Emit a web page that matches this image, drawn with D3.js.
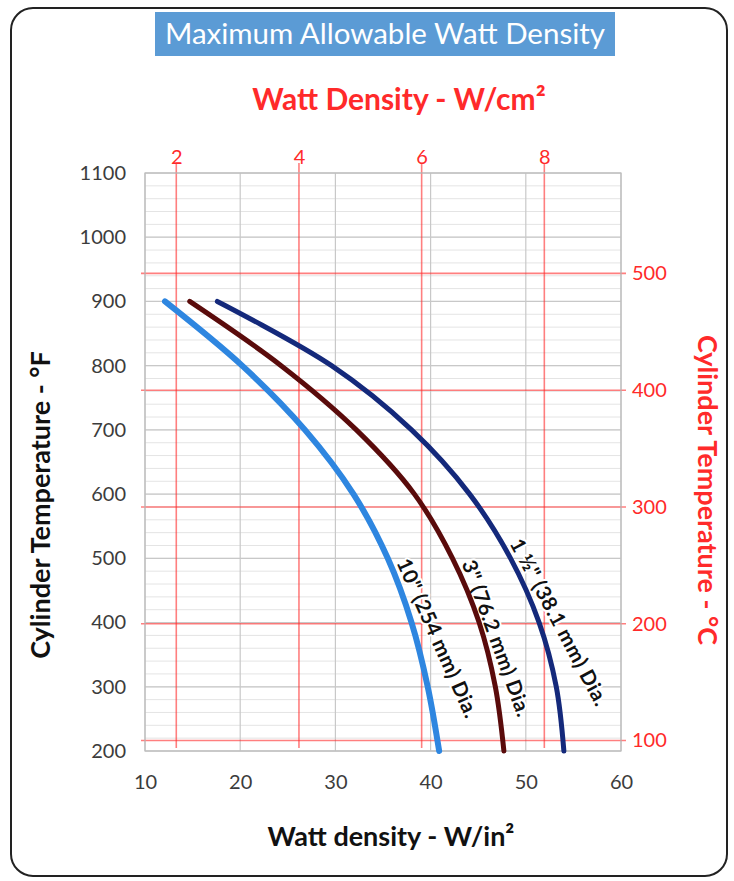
<!DOCTYPE html>
<html>
<head>
<meta charset="utf-8">
<script src="https://cdn.jsdelivr.net/npm/d3@7"></script>
<style>
    body { margin: 0; background: #fff; }
    svg text { font-family: Lato, "Open Sans", sans-serif; }
</style>
</head>
<body>
<div id="chart"></div>
<script>
// Watt density (W/in²) at these temperatures (°F)
const tempsF = [900, 800, 700, 600, 500, 400, 300, 200];
const dia10 = [12.1, 20.2, 26.8, 31.9, 35.5, 38.0, 39.7, 40.9];
const dia3 = [14.7, 24.3, 32.2, 38.3, 42.3, 45.1, 46.8, 47.7];
const dia15 = [17.6, 29.6, 38.0, 44.1, 48.4, 51.4, 53.2, 54.0];

const seriesNames = ['10" (254 mm) Dia.', '3" (76.2 mm) Dia.', '1 ½" (38.1 mm) Dia.'];
const seriesValues = [dia10, dia3, dia15];
const seriesColors = ["#2e86e0", "#5a0b0b", "#14297b"];
const labelStartF = [490, 490, 520];   // where each curve label begins
const labelAngle = [66, 70, 62];

const xTicks = [10, 20, 30, 40, 50, 60];
const yTicks = [200, 300, 400, 500, 600, 700, 800, 900, 1000, 1100];
const cmTicks = [2, 4, 6, 8];
const cTicks = [100, 200, 300, 400, 500];
// secondary axes as drawn in the source (a bit off a strict unit conversion)
const cmDomain = [1.49, 9.25];
const cDomain = [91, 586];

const W = 734, H = 881;
const plot = { left: 145, right: 621, top: 173, bottom: 751 };
const red = "#ff2a2a";

const svg = d3.select("#chart").append("svg")
    .attr("width", W).attr("height", H);

// outer rounded frame
svg.append("rect")
    .attr("x", 11).attr("y", 8).attr("width", 716).attr("height", 868)
    .attr("rx", 22).attr("fill", "#fff")
    .attr("stroke", "#222").attr("stroke-width", 2);

// title box
svg.append("rect")
    .attr("x", 155).attr("y", 12).attr("width", 460).attr("height", 44)
    .attr("fill", "#5b9bd5");
svg.append("text")
    .attr("x", 385).attr("y", 44).attr("text-anchor", "middle")
    .attr("fill", "#fff").attr("font-size", 29.5)
    .text("Maximum Allowable Watt Density");

const x = d3.scaleLinear().domain([10, 60]).range([plot.left, plot.right]);
const y = d3.scaleLinear().domain([200, 1100]).range([plot.bottom, plot.top]);
const xCm = d3.scaleLinear().domain(cmDomain).range(x.range());
const yC = d3.scaleLinear().domain(cDomain).range(y.range());

// grey grid
const grid = svg.append("g");
grid.selectAll(".minor").data(d3.range(200, 1101, 20)).enter().append("line")
    .attr("x1", plot.left).attr("x2", plot.right)
    .attr("y1", d => y(d)).attr("y2", d => y(d))
    .attr("stroke", "#e4e4e4").attr("stroke-width", 1);
grid.selectAll(".major").data(yTicks).enter().append("line")
    .attr("x1", plot.left).attr("x2", plot.right)
    .attr("y1", d => y(d)).attr("y2", d => y(d))
    .attr("stroke", "#c8c8c8").attr("stroke-width", 1.2);
grid.selectAll(".vert").data(xTicks).enter().append("line")
    .attr("x1", d => x(d)).attr("x2", d => x(d))
    .attr("y1", plot.top).attr("y2", plot.bottom)
    .attr("stroke", "#c8c8c8").attr("stroke-width", 1.2);

// red secondary grid (W/cm² and °C)
const redGrid = svg.append("g").attr("stroke", red).attr("stroke-opacity", 0.6).attr("stroke-width", 1.6);
redGrid.selectAll(".rv").data(cmTicks).enter().append("line")
    .attr("x1", d => xCm(d)).attr("x2", d => xCm(d))
    .attr("y1", plot.top - 10).attr("y2", plot.bottom - 3);
redGrid.selectAll(".rh").data(cTicks).enter().append("line")
    .attr("x1", plot.left - 4).attr("x2", plot.right + 5)
    .attr("y1", d => yC(d)).attr("y2", d => yC(d));

// axes
function styleAxis(g, color) {
    g.select(".domain").remove();
    g.selectAll("text").attr("font-size", 20).attr("fill", color)
        .attr("font-family", "Lato, sans-serif");
}
svg.append("g").attr("transform", `translate(${plot.left},0)`)
    .call(d3.axisLeft(y).tickValues(yTicks).tickFormat(d3.format("d")).tickSize(0).tickPadding(19))
    .call(g => styleAxis(g, "#3c3c3c"));
svg.append("g").attr("transform", `translate(0,${plot.bottom})`)
    .call(d3.axisBottom(x).tickValues(xTicks).tickSize(0).tickPadding(24))
    .call(g => styleAxis(g, "#3c3c3c"));
svg.append("g").attr("transform", `translate(0,${plot.top})`)
    .call(d3.axisTop(xCm).tickValues(cmTicks).tickSize(0).tickPadding(9))
    .call(g => styleAxis(g, red));
svg.append("g").attr("transform", `translate(${plot.right},0)`)
    .call(d3.axisRight(yC).tickValues(cTicks).tickSize(0).tickPadding(11))
    .call(g => styleAxis(g, red));

// plot frame
svg.append("rect")
    .attr("x", plot.left).attr("y", plot.top)
    .attr("width", plot.right - plot.left).attr("height", plot.bottom - plot.top)
    .attr("fill", "none").attr("stroke", "#bdbdbd").attr("stroke-width", 1.2);

// labels sit under the curves, with a white halo over the grid
const labelLayer = svg.append("g");
const curveLayer = svg.append("g");

const line = d3.line()
    .x(d => x(d[0])).y(d => y(d[1]))
    .curve(d3.curveCatmullRom.alpha(0.5));

seriesValues.forEach((vals, i) => {
    const pts = vals.map((v, k) => [v, tempsF[k]]);
    const path = curveLayer.append("path")
        .datum(pts)
        .attr("d", line)
        .attr("fill", "none")
        .attr("stroke", seriesColors[i])
        .attr("stroke-width", i === 0 ? 6 : 5)
        .attr("stroke-linecap", "round");

    // straight, rotated label starting just right of the curve
    const node = path.node();
    const L = node.getTotalLength();
    const yStart = y(labelStartF[i]);
    let p = node.getPointAtLength(0);
    for (let l = 0; l <= L; l += 1) {
        p = node.getPointAtLength(l);
        if (p.y >= yStart) break;
    }
    const a = labelAngle[i] * Math.PI / 180;
    const gap = 6;
    const ax = p.x + gap * Math.sin(a), ay = p.y - gap * Math.cos(a);
    labelLayer.append("text")
        .attr("transform", `translate(${ax},${ay}) rotate(${labelAngle[i]})`)
        .attr("font-size", 20.5).attr("font-weight", "bold").attr("fill", "#111")
        .attr("letter-spacing", 0.5)
        .attr("stroke", "#fff").attr("stroke-width", 4)
        .attr("stroke-linejoin", "round").attr("paint-order", "stroke")
        .text(seriesNames[i]);
});

// axis titles
svg.append("text")
    .attr("x", 399).attr("y", 110).attr("text-anchor", "middle")
    .attr("font-size", 30).attr("font-weight", "bold").attr("fill", red)
    .text("Watt Density - W/cm²");
svg.append("text")
    .attr("x", 391).attr("y", 846).attr("text-anchor", "middle")
    .attr("font-size", 27).attr("font-weight", "bold").attr("fill", "#111")
    .text("Watt density - W/in²");
svg.append("text")
    .attr("transform", "translate(50,505) rotate(-90)")
    .attr("text-anchor", "middle")
    .attr("font-size", 27).attr("font-weight", "bold").attr("fill", "#111")
    .text("Cylinder Temperature - °F");
svg.append("text")
    .attr("transform", "translate(698,490) rotate(90)")
    .attr("text-anchor", "middle")
    .attr("font-size", 27).attr("font-weight", "bold").attr("fill", red)
    .text("Cylinder Temperature - °C");
</script>
</body>
</html>
